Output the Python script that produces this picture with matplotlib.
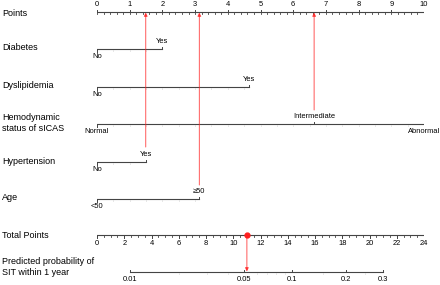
import numpy as np
import matplotlib.pyplot as plt

plt.rcParams['font.family'] = ['Liberation Sans', 'DejaVu Sans']

# points scale of each predictor
row_names = ['Diabetes', 'Dyslipidemia', 'Hemodynamic\nstatus of sICAS', 'Hypertension', 'Age']
row_levels = [['No', 'Yes'], ['No', 'Yes'], ['Normal', 'Intermediate', 'Abnormal'], ['No', 'Yes'], ['<50', '≥50']]
row_points = [[0, 2.0], [0, 4.64], [0, 6.64, 10], [0, 1.49], [0, 3.13]]
# which level sits below (-1) or above (+1) the line
row_sides = [[-1, 1], [-1, 1], [-1, 1, -1], [-1, 1], [-1, 1]]

# selected patient: hypertension yes, age >=50, intermediate hemodynamics
chosen_points = [1.49, 3.13, 6.64]
patient_total = 11.0

total_max = 24
prob_ticks = [0.01, 0.05, 0.1, 0.2, 0.3]
prob_tick_labels = ['0.01', '0.05', '0.1', '0.2', '0.3']
prob_tick_total = [2.42, 10.8, 14.33, 18.27, 20.96]

line_col = '#444444'
faint = '#d8d8d8'
red = '#ff2020'
lab_fs = 6.5
tick_fs = 5.4


def tot2x(t):
    return np.asarray(t) * 10.0 / total_max


fig = plt.figure(figsize=(4.4, 2.85), dpi=100)
ax = fig.add_axes([97 / 440, 0, 327 / 440, 1])
ax.set_xlim(0, 10)
ax.set_ylim(285, 0)
ax.axis('off')


def row_label(y, text):
    fig.text(2 / 440, 1 - y / 285, text, fontsize=lab_fs, ha='left', va='center', linespacing=1.15)


# Points axis
y_pts = 12
ax.plot([0, 10], [y_pts, y_pts], color=line_col, lw=0.8)
for v in np.arange(0, 10.01, 0.2):
    ax.plot([v, v], [y_pts, y_pts + 1.5], color=line_col, lw=0.6)
for v in range(11):
    ax.plot([v, v], [y_pts, y_pts - 2.5], color=line_col, lw=0.7)
    ax.text(v, y_pts - 4, str(v), fontsize=tick_fs, ha='center', va='bottom')
row_label(y_pts + 1, 'Points')

# predictor rows
row_y = [49, 87, 124, 162, 199]
for name, levels, pts, sides, y in zip(row_names, row_levels, row_points, row_sides, row_y):
    ax.plot([min(pts), max(pts)], [y, y], color=line_col, lw=0.8)
    for v in np.arange(0.5, max(pts), 0.5):
        ax.plot([v, v], [y + 1, y + 2], color=faint, lw=0.5)
    for lev, p, s in zip(levels, pts, sides):
        ax.plot([p, p], [y, y - s * 2.5], color=line_col, lw=0.7)
        if s > 0:
            ax.text(p, y - 4, lev, fontsize=tick_fs, ha='center', va='bottom')
        else:
            ax.text(p, y + 4, lev, fontsize=tick_fs, ha='center', va='top')
    row_label(y - 1, name)

# Total points axis
y_tot = 235
ax.plot([0, 10], [y_tot, y_tot], color=line_col, lw=0.8)
for t in np.arange(0, total_max + 0.01, 0.5):
    ax.plot([tot2x(t)] * 2, [y_tot, y_tot + 1.8], color=line_col, lw=0.6)
for t in range(0, total_max + 1, 2):
    ax.plot([tot2x(t)] * 2, [y_tot, y_tot + 2.8], color=line_col, lw=0.7)
    ax.text(tot2x(t), y_tot + 5, str(t), fontsize=tick_fs, ha='center', va='top')
row_label(y_tot, 'Total Points')

# probability axis
y_prob = 272
x_prob = tot2x(prob_tick_total)
ax.plot([x_prob[0], x_prob[-1]], [y_prob, y_prob], color=line_col, lw=0.8)
lg = np.log(np.array(prob_ticks) / (1 - np.array(prob_ticks)))
for p in [0.02, 0.03, 0.04, 0.06, 0.07, 0.08, 0.09, 0.15, 0.25]:
    xm = np.interp(np.log(p / (1 - p)), lg, x_prob)
    ax.plot([xm, xm], [y_prob + 1, y_prob + 2], color=faint, lw=0.5)
for xp, lab in zip(x_prob, prob_tick_labels):
    ax.plot([xp, xp], [y_prob, y_prob - 2.5], color=line_col, lw=0.7)
    ax.text(xp, y_prob + 4, lab, fontsize=tick_fs, ha='center', va='top')
row_label(y_prob - 5, 'Predicted probability of\nSIT within 1 year')

# red arrows for the patient
starts = {1.49: 147, 3.13: 185, 6.64: 110}
for p in chosen_points:
    ax.annotate('', xy=(p, y_pts + 0.5), xytext=(p, starts[p]),
                arrowprops=dict(arrowstyle='-|>', color=red, lw=0.7, alpha=0.75,
                                mutation_scale=5, shrinkA=0, shrinkB=0))
xt = tot2x(patient_total)
ax.plot([xt], [y_tot], 'o', color=red, ms=3.5, zorder=5)
ax.annotate('', xy=(xt, y_prob - 0.5), xytext=(xt, y_tot),
            arrowprops=dict(arrowstyle='-|>', color=red, lw=0.7, alpha=0.75,
                            mutation_scale=5, shrinkA=0, shrinkB=0))

fig.savefig('out.png', dpi=100)
